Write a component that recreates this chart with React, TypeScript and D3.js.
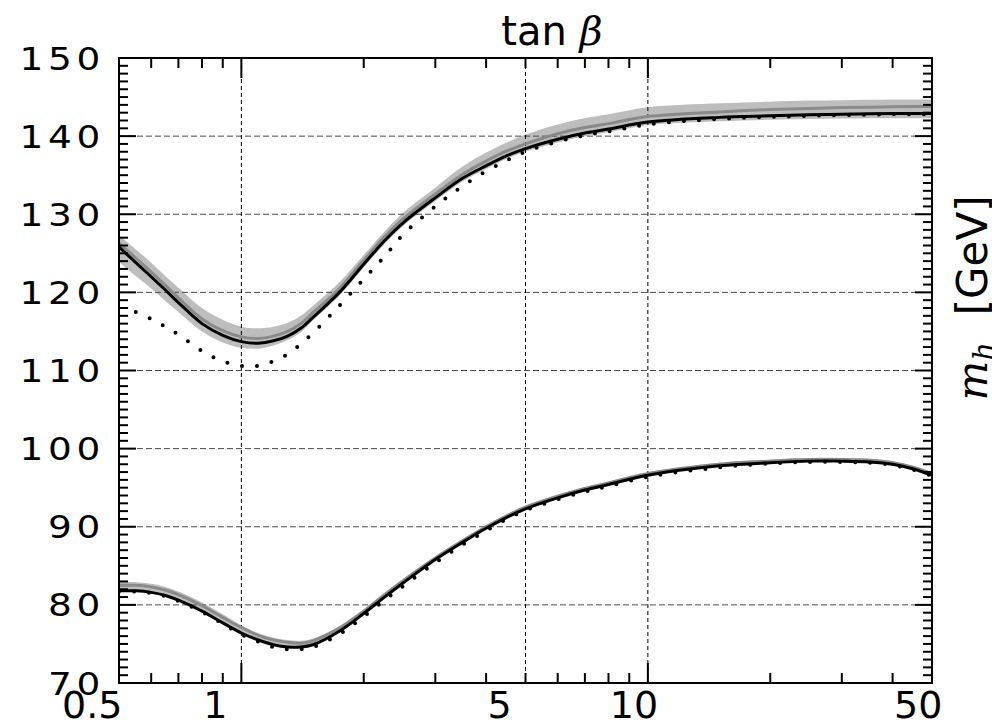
import * as d3 from 'd3'
import { useEffect, useRef } from 'react'

// tan(beta) grid shared by all curves
const tanBeta = [0.5, 0.55, 0.6, 0.65, 0.7, 0.8, 0.9, 1.0, 1.1, 1.2, 1.3, 1.4, 1.5, 1.75, 2, 2.25, 2.5, 3, 3.5, 4, 4.5, 5, 6, 7, 8, 10, 15, 20, 25, 30, 35, 40, 45, 50]

// heavy Higgs branch (GeV)
const upperSolid = [125.8, 123.8, 122.0, 120.3, 118.7, 116.0, 114.5, 113.7, 113.5, 113.8, 114.4, 115.4, 116.8, 120.1, 123.6, 126.6, 128.9, 132.1, 134.6, 136.2, 137.5, 138.4, 139.6, 140.4, 140.9, 141.8, 142.4, 142.6, 142.75, 142.8, 142.85, 142.9, 142.9, 142.9]
const upperGray = [126.3, 124.4, 122.6, 120.9, 119.3, 116.6, 115.1, 114.3, 114.1, 114.4, 115.0, 116.0, 117.4, 120.6, 124.1, 127.1, 129.4, 132.6, 135.1, 136.8, 138.1, 139.0, 140.3, 141.1, 141.6, 142.5, 143.1, 143.4, 143.55, 143.65, 143.7, 143.75, 143.8, 143.8]
const upperBandLo = [123.9, 122.1, 120.5, 118.9, 117.5, 115.0, 113.6, 112.9, 112.8, 113.2, 113.9, 114.9, 116.4, 119.7, 123.2, 126.2, 128.5, 131.7, 134.2, 135.8, 137.1, 138.0, 139.2, 140.0, 140.5, 141.4, 141.9, 142.1, 142.2, 142.25, 142.3, 142.3, 142.3, 142.3]
const upperBandHi = [127.3, 125.5, 123.8, 122.1, 120.6, 118.0, 116.5, 115.6, 115.4, 115.6, 116.1, 117.0, 118.3, 121.4, 124.8, 127.8, 130.2, 133.4, 136.1, 137.9, 139.2, 140.2, 141.5, 142.3, 142.8, 143.7, 144.2, 144.4, 144.55, 144.6, 144.65, 144.7, 144.7, 144.7]
// dotted curve starts at tanBeta = 0.55
const upperDotted = [null, 117.5, 116.6, 115.6, 114.6, 112.5, 111.2, 110.6, 110.6, 111.2, 112.1, 113.4, 114.8, 118.4, 121.7, 124.6, 127.4, 131.0, 133.6, 135.5, 136.9, 138.0, 139.3, 140.1, 140.6, 141.5, 142.2, 142.45, 142.6, 142.7, 142.75, 142.8, 142.8, 142.8]

// light Higgs branch (GeV)
const lowerSolid = [81.8, 81.8, 81.6, 81.2, 80.6, 79.2, 77.7, 76.4, 75.5, 74.9, 74.6, 74.6, 74.9, 76.7, 78.9, 81.0, 82.8, 85.8, 88.0, 89.8, 91.2, 92.3, 93.7, 94.7, 95.4, 96.6, 97.8, 98.2, 98.4, 98.4, 98.3, 98.0, 97.4, 96.6]
const lowerGray = [82.5, 82.5, 82.3, 81.9, 81.3, 79.9, 78.4, 77.1, 76.1, 75.5, 75.2, 75.1, 75.4, 77.1, 79.2, 81.3, 83.1, 86.0, 88.2, 90.0, 91.4, 92.5, 93.9, 94.9, 95.6, 96.8, 98.0, 98.4, 98.6, 98.6, 98.5, 98.2, 97.6, 96.8]
const lowerBandLo = [81.7, 81.7, 81.5, 81.1, 80.5, 79.1, 77.6, 76.3, 75.4, 74.8, 74.5, 74.5, 74.8, 76.6, 78.8, 80.9, 82.7, 85.7, 87.9, 89.7, 91.1, 92.2, 93.6, 94.6, 95.3, 96.5, 97.7, 98.1, 98.3, 98.3, 98.2, 97.9, 97.3, 96.5]
const lowerBandHi = [82.9, 82.9, 82.7, 82.3, 81.7, 80.3, 78.8, 77.4, 76.4, 75.8, 75.5, 75.4, 75.7, 77.3, 79.4, 81.5, 83.3, 86.2, 88.4, 90.2, 91.6, 92.7, 94.1, 95.1, 95.8, 97.0, 98.2, 98.6, 98.8, 98.8, 98.7, 98.4, 97.8, 97.0]
const lowerDotted = [81.7, 81.7, 81.5, 81.1, 80.5, 79.1, 77.6, 76.2, 75.3, 74.6, 74.3, 74.3, 74.6, 76.3, 78.5, 80.6, 82.4, 85.4, 87.7, 89.5, 91.0, 92.1, 93.5, 94.5, 95.2, 96.4, 97.6, 98.1, 98.3, 98.3, 98.2, 97.9, 97.3, 96.5]

// axes
const xLabelValues = [0.5, 1, 5, 10, 50]
const xLabelText = ['0.5', '1', '5', '10', '50']
const xMajorTicks = [1, 10]
const xMinorTicks = [0.6, 0.7, 0.8, 0.9, 2, 3, 4, 5, 6, 7, 8, 9, 20, 30, 40]
const xGridValues = [1, 5, 10]
const yLabelValues = [70, 80, 90, 100, 110, 120, 130, 140, 150]
const yGridValues = [80, 90, 100, 110, 120, 130, 140]

const W = 992
const H = 725
const margin = { left: 119, top: 58, right: 60, bottom: 42 }

export default function App() {
  const ref = useRef<SVGSVGElement>(null)

  useEffect(() => {
    const svg = d3.select(ref.current)
    svg.selectAll('*').remove()

    const x0 = margin.left
    const x1 = W - margin.right
    const y0 = H - margin.bottom
    const y1 = margin.top

    const x = d3.scaleLog().domain([0.5, 50]).range([x0, x1])
    const y = d3.scaleLinear().domain([70, 150]).range([y0, y1])
    const curve = d3.curveCatmullRom.alpha(0.5)

    svg.append('defs').append('clipPath').attr('id', 'plot-clip')
      .append('rect').attr('x', x0).attr('y', y1).attr('width', x1 - x0).attr('height', y0 - y1)

    const plot = svg.append('g').attr('clip-path', 'url(#plot-clip)')

    const line = (vals: (number | null)[]) =>
      d3.line<number>()
        .defined((_, i) => vals[i] != null)
        .x((t) => x(t))
        .y((_, i) => y(vals[i] as number))
        .curve(curve)(tanBeta)

    const band = (lo: number[], hi: number[]) =>
      d3.area<number>()
        .x((t) => x(t))
        .y0((_, i) => y(lo[i]))
        .y1((_, i) => y(hi[i]))
        .curve(curve)(tanBeta)

    // uncertainty bands
    ;[[upperBandLo, upperBandHi], [lowerBandLo, lowerBandHi]].forEach(([lo, hi]) => {
      plot.append('path').attr('d', band(lo, hi)).attr('fill', '#bdbdbd')
    })

    // grid
    yGridValues.forEach((v) => {
      plot.append('line')
        .attr('x1', x0).attr('x2', x1).attr('y1', y(v)).attr('y2', y(v))
        .attr('stroke', '#4a4a4a').attr('stroke-width', 1).attr('stroke-dasharray', '6,3')
    })
    xGridValues.forEach((v) => {
      plot.append('line')
        .attr('x1', x(v)).attr('x2', x(v)).attr('y1', y1).attr('y2', y0)
        .attr('stroke', '#000').attr('stroke-width', 1).attr('stroke-dasharray', '4,3')
    })

    // curves
    ;[upperGray, lowerGray].forEach((vals) => {
      plot.append('path').attr('d', line(vals)).attr('fill', 'none')
        .attr('stroke', '#8a8a8a').attr('stroke-width', 3)
    })
    ;[upperSolid, lowerSolid].forEach((vals) => {
      plot.append('path').attr('d', line(vals)).attr('fill', 'none')
        .attr('stroke', '#000').attr('stroke-width', 3)
    })
    ;[upperDotted, lowerDotted].forEach((vals) => {
      plot.append('path').attr('d', line(vals)).attr('fill', 'none')
        .attr('stroke', '#000').attr('stroke-width', 4)
        .attr('stroke-linecap', 'round').attr('stroke-dasharray', '0,15')
    })

    // ticks (inward, all four sides)
    const ticks = svg.append('g').attr('stroke', '#000').attr('stroke-width', 2)
    const xTick = (v: number, len: number) => {
      ticks.append('line').attr('x1', x(v)).attr('x2', x(v)).attr('y1', y0).attr('y2', y0 - len)
      ticks.append('line').attr('x1', x(v)).attr('x2', x(v)).attr('y1', y1).attr('y2', y1 + len)
    }
    xMajorTicks.forEach((v) => xTick(v, 20))
    xMinorTicks.forEach((v) => xTick(v, 10))

    const yTick = (v: number, len: number) => {
      ticks.append('line').attr('x1', x0).attr('x2', x0 + len).attr('y1', y(v)).attr('y2', y(v))
      ticks.append('line').attr('x1', x1).attr('x2', x1 - len).attr('y1', y(v)).attr('y2', y(v))
    }
    d3.range(70, 151).forEach((v) => yTick(v, v % 10 === 0 ? 17 : 9))

    // frame
    svg.append('rect').attr('x', x0).attr('y', y1).attr('width', x1 - x0).attr('height', y0 - y1)
      .attr('fill', 'none').attr('stroke', '#000').attr('stroke-width', 2)

    // y tick labels: wide, spaced digits
    const font = 'DejaVu Sans, sans-serif'
    yLabelValues.forEach((v) => {
      const s = String(v)
      svg.append('text').text(s)
        .attr('x', x0 - 14).attr('y', y(v)).attr('dy', '0.36em')
        .attr('text-anchor', 'end').attr('font-family', font).attr('font-size', 32)
        .attr('letter-spacing', 4)
        .attr('textLength', s.length * 28.5).attr('lengthAdjust', 'spacingAndGlyphs')
        .attr('fill', '#000')
    })

    // x tick labels
    xLabelValues.forEach((v, i) => {
      const txt = xLabelText[i]
      const nudge = txt === '0.5' ? -57 : -38
      svg.append('text').text(txt)
        .attr('x', x(v) + nudge).attr('y', 718)
        .attr('text-anchor', 'start').attr('font-family', font).attr('font-size', 38)
        .attr('fill', '#000')
    })

    // title
    const title = svg.append('text').attr('x', 552).attr('y', 45)
      .attr('text-anchor', 'middle').attr('font-family', font).attr('font-size', 40).attr('fill', '#000')
    title.append('tspan').text('tan ')
    title.append('tspan').text('β').attr('font-family', 'DejaVu Serif, serif').attr('font-style', 'italic')

    // right axis label
    const ylab = svg.append('text').attr('transform', 'translate(987,298) rotate(-90)')
      .attr('text-anchor', 'middle').attr('font-family', font).attr('font-size', 42).attr('fill', '#000')
    ylab.append('tspan').text('m').attr('font-family', 'DejaVu Serif, serif').attr('font-style', 'italic')
    ylab.append('tspan').text('h').attr('font-family', 'DejaVu Serif, serif').attr('font-style', 'italic')
      .attr('font-size', 29).attr('dy', 7)
    ylab.append('tspan').text('\u00a0 [GeV]').attr('dy', -7)
  }, [])

  return (
    <svg ref={ref} width={W} height={H} style={{ position: 'absolute', left: 0, top: 0, background: '#fff' }} />
  )
}
